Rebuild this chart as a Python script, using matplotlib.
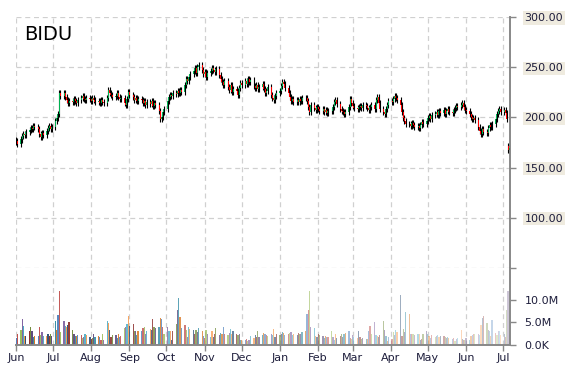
"""BIDU daily candles with volume underneath, Jun 2017 - Jul 2018."""

import matplotlib

matplotlib.use("Agg")
import matplotlib.dates as mdates
import matplotlib.pyplot as plt
import numpy as np
import pandas as pd

TICKER = "BIDU"
START = "2017-06-01"
END = "2018-07-06"

# daily closes, one row per week (first row is Thu/Fri Jun 1-2)
CLOSES = [
    176, 174,
    178, 181, 183, 182, 185,
    187, 189, 188, 191, 190,
    188, 183, 180, 184, 182,
    186, 189, 191, 188, 190,
    196, 199, 203, 224, 221,
    224, 220, 217, 214, 216,
    215, 218, 216, 214, 217,
    219, 221, 218, 217, 219,
    218, 216, 219, 217, 215,
    216, 214, 217, 215, 214,
    219, 227, 224, 222, 220,
    221, 224, 220, 218, 219,
    214, 212, 218, 225, 222,
    220, 217, 219, 216, 218,
    217, 214, 216, 212, 215,
    213, 216, 211, 214, 212,
    206, 198, 200, 205, 208,
    216, 220, 222, 221, 224,
    223, 226, 224, 227, 225,
    232, 238, 236, 240, 243,
    246, 249, 244, 250, 252,
    247, 243, 245, 240, 244,
    246, 249, 247, 245, 248,
    242, 238, 235, 232, 236,
    230, 227, 232, 225, 228,
    226, 222, 229, 234, 232,
    236, 233, 238, 235, 237,
    231, 229, 232, 228, 230,
    233, 228, 224, 226, 230,
    222, 219, 217, 221, 224,
    226, 231, 235, 233, 229,
    224, 220, 216, 218, 215,
    217, 215, 218, 216, 219,
    219, 216, 210, 205, 212,
    209, 207, 210, 208, 206,
    208, 205, 207, 204, 206,
    206, 210, 215, 217, 213,
    208, 206, 205, 203, 205,
    210, 218, 214, 211, 209,
    208, 210, 211, 209, 212,
    211, 209, 207, 210, 212,
    208, 217, 220, 214, 208,
    205, 203, 208, 212, 216,
    215, 218, 221, 219, 217,
    212, 205, 199, 196, 193,
    193, 191, 194, 192, 190,
    191, 189, 192, 195, 193,
    196, 199, 201, 198, 202,
    203, 205, 202, 206, 204,
    207, 203, 206, 208, 205,
    204, 207, 209, 211, 210,
    212, 214, 210, 207, 206,
    203, 200, 198, 199, 197,
    190, 186, 183, 188, 185,
    184, 189, 192, 190, 193,
    198, 203, 206, 208, 205,
    207, 204, 198, 168, 170,
]

# opens that gapped away from the prior close
GAP_OPENS = {"2018-07-05": 172}

# daily volume in millions of shares, same layout
VOLUMES = [
    1.5, 2.4,
    3.3, 5.8, 4.2, 2.0, 2.0,
    3.2, 4.0, 3.2, 1.7, 2.0,
    2.0, 3.9, 2.2, 2.9, 2.0,
    2.0, 2.4, 2.0, 2.4, 2.0,
    5.3, 3.3, 6.7, 12.0, 2.9,
    5.2, 4.2, 3.9, 4.4, 5.0,
    3.3, 2.5, 2.0, 2.0, 2.2,
    2.2, 1.5, 1.7, 2.5, 2.2,
    1.7, 1.3, 1.5, 2.5, 1.7,
    2.0, 1.7, 1.0, 2.5, 1.2,
    5.2, 4.8, 3.3, 1.7, 2.2,
    2.2, 1.5, 2.5, 1.8, 2.0,
    3.7, 4.0, 4.6, 6.4, 4.2,
    4.6, 3.0, 3.2, 2.2, 3.2,
    3.2, 3.7, 3.9, 2.5, 3.0,
    3.5, 3.3, 5.7, 3.9, 3.7,
    4.0, 5.9, 5.7, 4.0, 2.4,
    4.0, 3.2, 3.0, 1.1, 3.2,
    4.6, 7.7, 10.4, 6.2, 3.8,
    4.4, 3.3, 1.8, 4.0, 3.5,
    3.3, 2.5, 3.4, 2.9, 3.7,
    3.0, 2.0, 1.5, 3.3, 2.5,
    1.8, 3.0, 1.8, 2.5, 3.7,
    2.2, 2.6, 2.5, 3.9, 2.4,
    2.2, 2.7, 3.5, 2.5, 3.2,
    2.5, 2.2, 2.4, 1.1, 1.1,
    1.1, 1.4, 0.8, 1.1, 2.0,
    1.6, 2.3, 1.7, 3.0, 1.7,
    2.3, 2.7, 2.5, 2.2, 2.0,
    2.5, 2.3, 3.6, 1.7, 2.5,
    2.2, 2.5, 2.9, 2.7, 2.2,
    2.5, 2.7, 2.9, 2.2, 2.4,
    2.2, 2.7, 2.5, 2.4, 2.9,
    3.1, 6.9, 7.8, 12.0, 4.0,
    3.7, 2.0, 1.7, 2.4, 2.2,
    2.0, 1.5, 1.9, 1.7, 1.7,
    3.1, 1.8, 1.2, 2.4, 1.6,
    2.0, 2.4, 1.7, 2.5, 2.6,
    3.1, 1.5, 1.3, 2.2, 1.7,
    1.5, 3.0, 1.7, 1.3, 1.6,
    1.3, 1.4, 3.2, 4.2, 2.5,
    5.0, 2.2, 1.9, 1.8, 2.2,
    5.2, 3.3, 1.9, 0.9, 1.7,
    1.3, 2.8, 2.2, 3.3, 2.9,
    11.0, 1.9, 3.5, 2.8, 7.3,
    6.8, 2.5, 2.5, 2.5, 2.2,
    2.4, 2.4, 1.1, 1.3, 2.5,
    3.1, 2.5, 1.9, 1.6, 2.2,
    1.7, 2.0, 2.2, 1.7, 1.9,
    2.0, 1.7, 1.5, 1.7, 1.5,
    1.3, 1.5, 0.8, 1.3, 1.5,
    3.3, 1.3, 1.1, 1.1, 1.6,
    1.1, 2.0, 2.2, 2.5, 2.4,
    2.5, 2.2, 4.4, 5.9, 6.3,
    4.8, 3.3, 3.0, 2.0, 5.5,
    2.6, 2.2, 3.0, 3.0, 2.2,
    2.4, 1.7, 7.8, 12.0, 2.5,
]

PRICE_TICKS = [50, 100, 150, 200, 250, 300]
PRICE_LABELS = ["", "100.00", "150.00", "200.00", "250.00", "300.00"]
VOL_TICKS = [0, 5, 10]
VOL_LABELS = ["0.0K", "5.0M", "10.0M"]
MONTHS = ["Jun", "Jul", "Aug", "Sep", "Oct", "Nov", "Dec",
          "Jan", "Feb", "Mar", "Apr", "May", "Jun", "Jul"]

VOL_COLORS = ["#4F81BD", "#C0504D", "#9BBB59", "#8064A2", "#4BACC6", "#F79646",
              "#2C4D75", "#8C2F2C", "#6F8A38", "#5A457A", "#2E8AA3", "#D8731C"]
UP, DOWN = "#00b050", "#ff0000"
GRID = dict(color="#d0d0d0", lw=0.9, ls=(0, (4, 3)))
W, H = 570, 370


def style_right_axis(ax, ticks, labels, box=False):
    ax.yaxis.tick_right()
    ax.set_yticks(ticks)
    ax.set_yticklabels(labels)
    ax.tick_params(axis="y", length=4, width=1, color="#888888", pad=6.5,
                   labelsize=8, labelcolor="#1e1e3c")
    if box:
        for lbl in ax.get_yticklabels():
            lbl.set_bbox(dict(facecolor="#efebdf", edgecolor="none", pad=1.2))
    for side in ("left", "top", "bottom"):
        ax.spines[side].set_visible(False)
    ax.spines["right"].set_color("#888888")
    ax.spines["right"].set_linewidth(1.4)


def main():
    dates = pd.bdate_range(START, END)
    x = mdates.date2num(dates.to_pydatetime())
    close = np.array(CLOSES, dtype=float)
    vol = np.array(VOLUMES, dtype=float)
    opn = np.r_[close[0] + 1, close[:-1]]
    for day, value in GAP_OPENS.items():
        opn[dates.get_loc(pd.Timestamp(day))] = value
    hi = np.maximum(opn, close) + 3
    lo = np.minimum(opn, close) - 3

    x0 = mdates.date2num(pd.Timestamp(START))
    xlim = (x0, x0 + 400.6)
    month_x = mdates.date2num(pd.date_range(START, END, freq="MS").to_pydatetime())

    fig = plt.figure(figsize=(W / 100, H / 100), dpi=100)
    left, right = 16 / W, 510 / W
    ax = fig.add_axes([left, (H - 268) / H, right - left, (268 - 17) / H])
    axv = fig.add_axes([left, (H - 345) / H, right - left, (345 - 268) / H])

    # price panel
    for m in month_x:
        ax.axvline(m, **GRID, zorder=0)
    for p in PRICE_TICKS:
        ax.axhline(p, **GRID, zorder=0)
    colors = np.where(close >= opn, UP, DOWN)
    ax.vlines(x, lo, hi, color="black", lw=0.8, zorder=2)
    body = np.maximum(np.abs(close - opn), 0.8)
    ax.bar(x, body, bottom=np.minimum(opn, close), width=0.8, color=colors,
           lw=0, zorder=3)
    ax.set_xlim(xlim)
    ax.set_ylim(50, 300)
    ax.set_xticks([])
    style_right_axis(ax, PRICE_TICKS, PRICE_LABELS, box=True)

    # volume panel
    for m in month_x:
        axv.axvline(m, **GRID, zorder=0)
    n = len(vol)
    bar_colors = [matplotlib.colors.to_rgba(VOL_COLORS[i % len(VOL_COLORS)],
                                            1.0 - 0.7 * i / (n - 1))
                  for i in range(n)]
    axv.bar(x, vol, width=1.0, color=bar_colors, lw=0, zorder=2)
    axv.set_xlim(xlim)
    axv.set_ylim(0, 17)
    style_right_axis(axv, VOL_TICKS, VOL_LABELS)
    axv.spines["bottom"].set_visible(True)
    axv.spines["bottom"].set_color("#888888")
    axv.spines["bottom"].set_linewidth(1.4)
    axv.set_xticks(month_x)
    axv.set_xticklabels(MONTHS)
    axv.tick_params(axis="x", length=4, width=1, color="#888888", pad=2,
                    labelsize=8, labelcolor="#1e1e3c")

    fig.text(24 / W, 1 - 35 / H, TICKER, fontsize=14, va="center", ha="left")
    fig.savefig("out.png", dpi=100)


if __name__ == "__main__":
    main()
